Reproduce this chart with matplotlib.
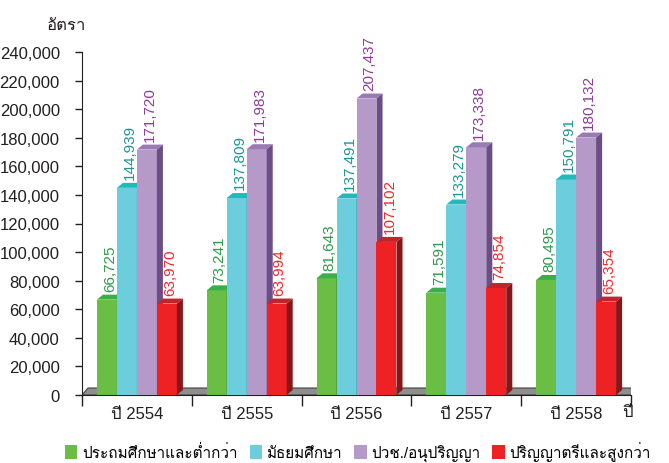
import numpy as np
import matplotlib
matplotlib.use('Agg')
import matplotlib.pyplot as plt
from matplotlib import font_manager
from matplotlib.ft2font import FT2Font
from matplotlib.patches import Polygon, Patch


# หาฟอนต์ที่มีอักษรไทย
def find_thai_font():
    for f in font_manager.fontManager.ttflist:
        try:
            if 0x0E01 in FT2Font(f.fname).get_charmap():
                return f.name
        except Exception:
            pass
    return 'DejaVu Sans'


thai_font = find_thai_font()
plt.rcParams['font.family'] = ['Liberation Sans', thai_font, 'DejaVu Sans']

# ข้อมูล
years = ['ปี 2554', 'ปี 2555', 'ปี 2556', 'ปี 2557', 'ปี 2558']
primary = [66725, 73241, 81643, 71591, 80495]
secondary = [144939, 137809, 137491, 133279, 150791]
vocational = [171720, 171983, 207437, 173338, 180132]
bachelor = [63970, 63994, 107102, 74854, 65354]
series_names = ['ประถมศึกษาและต่ำกว่า', 'มัธยมศึกษา', 'ปวช./อนุปริญญา', 'ปริญญาตรีและสูงกว่า']
yticks = np.arange(0, 240001, 20000)

# สี: หน้า, ด้านบน, ด้านข้าง, ตัวเลข
styles = [
    ('#6abd45', '#3aaf48', '#3d8a2e', '#2e9a4a'),
    ('#6ccddc', '#1fbabd', '#3a9aa6', '#1b9696'),
    ('#b59ac9', '#9a7ab5', '#6a4e85', '#8c3c98'),
    ('#ee2124', '#c1242b', '#8a1519', '#ee2a2a'),
]
data = [primary, secondary, vocational, bachelor]

fig = plt.figure(figsize=(6.69, 4.64), dpi=100)
ax = fig.add_axes([82 / 669, 1 - 396 / 464, 549 / 669, 343 / 464])

w = 0.182
dx = 0.055
dy = 3500
x = np.arange(len(years))

# พื้น
floor = Polygon([(-0.5, 0), (4.5, 0), (4.5 + dx, 1.4 * dy), (-0.5 + dx, 1.4 * dy)],
                closed=True, facecolor='#8e8e8e', edgecolor='#444444', lw=0.8, zorder=1)
ax.add_patch(floor)

for i, (vals, (cf, ct, cs, cl)) in enumerate(zip(data, styles)):
    left = x + (i - 2) * w
    ax.bar(left, vals, width=w, align='edge', color=cf, lw=0, zorder=2 + i)
    for xl, h in zip(left, vals):
        top = Polygon([(xl, h), (xl + dx, h + dy), (xl + w + dx, h + dy), (xl + w, h)],
                      closed=True, facecolor=ct, lw=0, zorder=2 + i)
        side = Polygon([(xl + w, 0), (xl + w + dx, dy), (xl + w + dx, h + dy), (xl + w, h)],
                       closed=True, facecolor=cs, lw=0, zorder=2 + i)
        ax.add_patch(top)
        ax.add_patch(side)
        ax.text(xl + w / 2 + dx / 2, h + dy + 2500, f'{h:,}', rotation=90,
                ha='center', va='bottom', color=cl, fontsize=11, zorder=10)

ax.set_xlim(-0.5, 4.5)
ax.set_ylim(0, 240000)
ax.set_yticks(yticks)
ax.set_yticklabels([f'{v:,}' for v in yticks])
ax.set_xticks(x)
ax.set_xticklabels(years)
ax.set_xticks(np.arange(-0.5, 5, 1), minor=True)
ax.tick_params(axis='x', which='major', length=0, pad=8, labelsize=12, colors='#231f20')
ax.tick_params(axis='x', which='minor', length=8, width=1, direction='out', color='#231f20')
ax.tick_params(axis='y', length=5, width=1, pad=11, labelsize=12, colors='#231f20')
for s in ['top', 'right']:
    ax.spines[s].set_visible(False)
ax.spines['left'].set_color('#231f20')
ax.spines['bottom'].set_color('#231f20')
ax.patch.set_alpha(0)

fig.text(66 / 669, 1 - 25 / 464, 'อัตรา', ha='center', va='center', fontsize=12, color='#231f20')
fig.text(627 / 669, 1 - 413 / 464, 'ปี', ha='center', va='center', fontsize=12, color='#231f20')

handles = [Patch(facecolor=s[0], label=n) for s, n in zip(styles, series_names)]
fig.legend(handles=handles, loc='lower center', bbox_to_anchor=(0.535, -0.02), ncol=4,
           frameon=False, fontsize=11, handlelength=0.8, handleheight=1.0,
           handletextpad=0.3, columnspacing=0.8, borderaxespad=0.3)

fig.savefig('out.png', dpi=100)
